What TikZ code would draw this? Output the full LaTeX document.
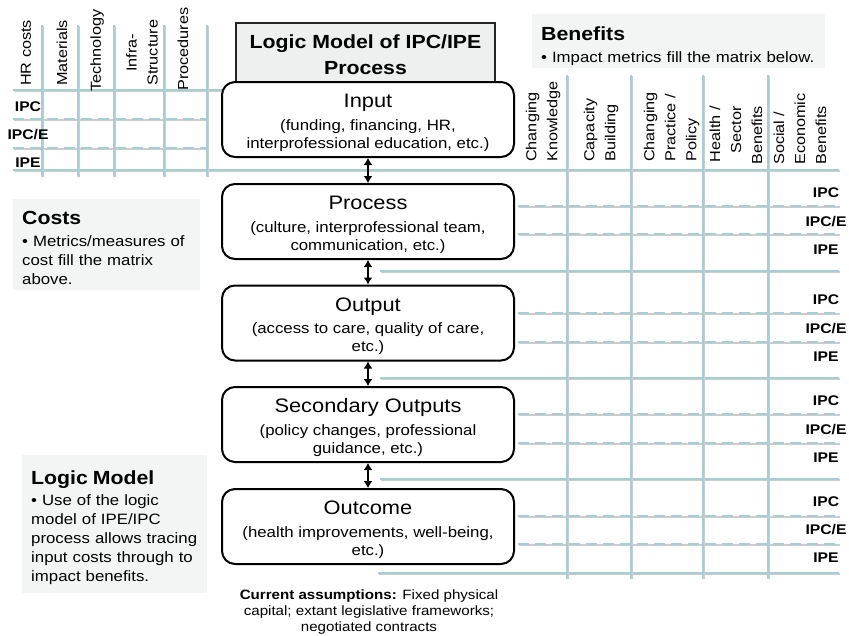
\documentclass[tikz,border=0pt]{standalone}
\usepackage{fontspec}
\setmainfont{Liberation Sans}[FakeStretch=1.12]
\usepackage{tikz}
\usetikzlibrary{arrows.meta}
\definecolor{gridblue}{RGB}{166,207,213}
\definecolor{panelgray}{RGB}{243,245,245}
\definecolor{titlegray}{RGB}{237,240,239}

\begin{document}
\begin{tikzpicture}[x=1pt,y=-1pt]
\tikzstyle{every node}=[font=\fontsize{15}{19}\selectfont, inner sep=0]
\tikzstyle{gridline}=[draw=gridblue, line width=2.6, preaction={draw=black!20, line width=2.4, transform canvas={shift={(0.6,1)}}}]
\tikzstyle{dashgrid}=[dash pattern=on 11pt off 6pt]
\tikzstyle{stage}=[draw, line width=2, rounded corners=13, fill=white, minimum width=292, minimum height=75, align=center, font=\fontsize{15}{18}\selectfont]
\tikzstyle{banner}=[draw=black!85, line width=1.5, fill=titlegray, minimum width=259, minimum height=64, align=center, font=\bfseries\fontsize{19}{26}\selectfont]
\tikzstyle{panel}=[fill=panelgray, anchor=north west, align=left, inner xsep=9]
\tikzstyle{colhead}=[rotate=90, anchor=west, font=\fontsize{14.5}{21}\selectfont]
\tikzstyle{rowlabel}=[font=\bfseries\fontsize{14}{16}\selectfont]
\tikzstyle{updown}=[{Latex[length=7pt,width=9pt]}-{Latex[length=7pt,width=9pt]}, line width=2.6]
\useasboundingbox (0,0) rectangle (849,635);

% cost matrix
\draw[gridline] (13,90) -- (230,90) (13,170) -- (839,170);
\draw[gridline, dashgrid] (13,119) -- (207,119) (13,148) -- (207,148);
\draw[gridline] (42,25) -- (42,176) (78,25) -- (78,176) (114,25) -- (114,176) (164,25) -- (164,176) (207,25) -- (207,176);

% benefit matrix
\draw[gridline] (380,271) -- (839,271) (380,378) -- (839,378) (380,479) -- (839,479) (378,573) -- (839,573);
\draw[gridline, dashgrid] (518,206) -- (839,206) (518,234) -- (839,234) (518,313) -- (839,313) (518,342) -- (839,342)
  (518,414) -- (839,414) (518,443) -- (839,443) (518,516) -- (839,516) (518,544) -- (839,544);
\draw[gridline] (567,75) -- (567,578) (631,75) -- (631,578) (703,75) -- (703,578) (768,75) -- (768,578);

\node[colhead] (hr) at (26,86) {HR costs};
\node[colhead] (mat) at (62,86) {Materials};
\node[colhead] (tech) at (97,92) {Technology};
\node[colhead, align=center] (infra) at (142,86) {Infra-\\Structure};
\node[colhead] (procd) at (183,91) {Procedures};

\node[colhead, align=left] (know) at (543,162) {Changing\\Knowledge};
\node[colhead, align=left] (capac) at (601,162) {Capacity\\Building};
\node[colhead, align=left] (pract) at (671.5,162) {Changing\\Practice /\\Policy};
\node[colhead, align=right] (health) at (736,165) {Health /\\Sector\\Benefits};
\node[colhead, align=left] (social) at (800,165) {Social /\\Economic\\Benefits};

\node[rowlabel] (cipc) at (28,107) {IPC};
\node[rowlabel] (cipce) at (28,135) {IPC/E};
\node[rowlabel] (cipe) at (28,163) {IPE};

\node[rowlabel] (aipc) at (826,193) {IPC};
\node[rowlabel] (aipce) at (826,222) {IPC/E};
\node[rowlabel] (aipe) at (826,250) {IPE};
\node[rowlabel] (bipc) at (826,300) {IPC};
\node[rowlabel] (bipce) at (826,329) {IPC/E};
\node[rowlabel] (bipe) at (826,357) {IPE};
\node[rowlabel] (dipc) at (826,401) {IPC};
\node[rowlabel] (dipce) at (826,430) {IPC/E};
\node[rowlabel] (dipe) at (826,458) {IPE};
\node[rowlabel] (eipc) at (826,502) {IPC};
\node[rowlabel] (eipce) at (826,530) {IPC/E};
\node[rowlabel] (eipe) at (826,558) {IPE};

% logic model chain
\node[banner, anchor=north] (title) at (365.5,22) {Logic Model of IPC/IPE\\Process};
\node[stage] (input) at (368,119.5) {{\fontsize{19.5}{20}\selectfont\rule{0pt}{20pt}Input}\\[4.5pt](funding, financing, HR,\\interprofessional education, etc.)};
\node[stage] (process) at (368,221.5) {{\fontsize{19.5}{20}\selectfont\rule{0pt}{20pt}Process}\\[4.5pt](culture, interprofessional team,\\communication, etc.)};
\node[stage] (output) at (368,323) {{\fontsize{19.5}{20}\selectfont\rule{0pt}{20pt}Output}\\[4.5pt](access to care, quality of care,\\etc.)};
\node[stage] (second) at (368,424.5) {{\fontsize{19.5}{20}\selectfont\rule{0pt}{20pt}Secondary Outputs}\\[4.5pt](policy changes, professional\\guidance, etc.)};
\node[stage] (outcome) at (368,526.5) {{\fontsize{19.5}{20}\selectfont\rule{0pt}{20pt}Outcome}\\[4.5pt](health improvements, well-being,\\etc.)};
\draw[updown] (input) -- (process);
\draw[updown] (process) -- (output);
\draw[updown] (output) -- (second);
\draw[updown] (second) -- (outcome);

\node[align=center, font=\fontsize{13.5}{16}\selectfont] (assume) at (369,612.5) {\textbf{Current assumptions:} Fixed physical\\capital; extant legislative frameworks;\\negotiated contracts};

% notes
\node[panel, text width=275, minimum height=54] (benefits) at (532,14) {{\bfseries\fontsize{19}{20}\selectfont\rule{0pt}{24pt}Benefits}\\[3pt]\textbullet\ Impact metrics fill the matrix below.};
\node[panel, text width=169, minimum height=91] (costs) at (13,199) {{\bfseries\fontsize{19}{20}\selectfont\rule{0pt}{20pt}Costs}\\[3pt]\textbullet\ Metrics/measures of\\cost fill the matrix\\above.};
\node[panel, text width=167, minimum height=138] (logic) at (22,455) {{\bfseries\fontsize{19}{20}\selectfont\rule{0pt}{20pt}Logic Model}\\[2pt]\textbullet\ Use of the logic\\model of IPE/IPC\\process allows tracing\\input costs through to\\impact benefits.};
\end{tikzpicture}
\end{document}
